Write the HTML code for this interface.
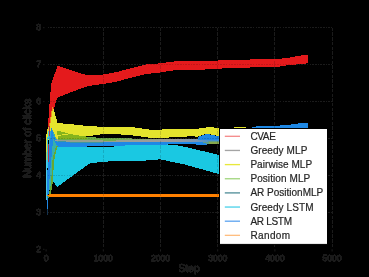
<!DOCTYPE html>
<html><head><meta charset="utf-8"><title>Number of clicks vs Step</title>
<style>
html,body{margin:0;padding:0;background:#000;}
body{width:369px;height:277px;overflow:hidden;}
svg{display:block;font-family:"Liberation Sans",sans-serif;}
</style></head><body>
<svg width="369" height="277" viewBox="0 0 369 277">
<defs><filter id="hard" x="-5%" y="-5%" width="110%" height="110%" color-interpolation-filters="sRGB"><feComponentTransfer><feFuncA type="linear" slope="12" intercept="-1.2"/></feComponentTransfer></filter>
<linearGradient id="gGrn" gradientUnits="userSpaceOnUse" x1="57.7" y1="0" x2="219.5" y2="0">
<stop offset="0" stop-color="#69af46"/><stop offset="0.36" stop-color="#70ad4e"/><stop offset="0.51" stop-color="#86a46c"/><stop offset="0.66" stop-color="#9a9a90"/><stop offset="1" stop-color="#9a9a90"/></linearGradient>
<linearGradient id="gGry" gradientUnits="userSpaceOnUse" x1="57.7" y1="0" x2="219.5" y2="0">
<stop offset="0" stop-color="#93a08c"/><stop offset="0.36" stop-color="#98a090"/><stop offset="0.51" stop-color="#9c9c98"/><stop offset="0.73" stop-color="#9a9a9a"/><stop offset="0.855" stop-color="#7a98b4"/><stop offset="0.94" stop-color="#4a90c8"/><stop offset="1" stop-color="#3c8cd4"/></linearGradient>
</defs>
<rect x="0" y="0" width="369" height="277" fill="#000"/>
<g stroke="#202020" stroke-width="1.1" stroke-dasharray="1.6 1.1" fill="none" shape-rendering="crispEdges">
<line x1="47.6" y1="212.4" x2="332.1" y2="212.4"/>
<line x1="47.6" y1="175.4" x2="332.1" y2="175.4"/>
<line x1="47.6" y1="138.5" x2="332.1" y2="138.5"/>
<line x1="47.6" y1="101.6" x2="332.1" y2="101.6"/>
<line x1="47.6" y1="64.6" x2="332.1" y2="64.6"/>
<line x1="47.6" y1="27.7" x2="332.1" y2="27.7"/>
</g>
<g stroke="#202020" stroke-width="1.1" stroke-dasharray="3.4 1.3" fill="none" shape-rendering="crispEdges">
<line x1="103.3" y1="27.7" x2="103.3" y2="249.3"/>
<line x1="160.5" y1="27.7" x2="160.5" y2="249.3"/>
<line x1="217.7" y1="27.7" x2="217.7" y2="249.3"/>
<line x1="274.9" y1="27.7" x2="274.9" y2="249.3"/>
<line x1="332.1" y1="27.7" x2="332.1" y2="249.3"/>
</g>
<g stroke="#202020" stroke-width="0.9" fill="none">
<line x1="46.1" y1="249.3" x2="46.1" y2="251.5"/>
<line x1="103.3" y1="249.3" x2="103.3" y2="251.5"/>
<line x1="160.5" y1="249.3" x2="160.5" y2="251.5"/>
<line x1="217.7" y1="249.3" x2="217.7" y2="251.5"/>
<line x1="274.9" y1="249.3" x2="274.9" y2="251.5"/>
<line x1="332.1" y1="249.3" x2="332.1" y2="251.5"/>
<line x1="43.1" y1="249.3" x2="44.5" y2="249.3"/>
<line x1="43.1" y1="212.4" x2="44.5" y2="212.4"/>
<line x1="43.1" y1="175.4" x2="44.5" y2="175.4"/>
<line x1="43.1" y1="138.5" x2="44.5" y2="138.5"/>
<line x1="43.1" y1="101.6" x2="44.5" y2="101.6"/>
<line x1="43.1" y1="64.6" x2="44.5" y2="64.6"/>
<line x1="43.1" y1="27.7" x2="44.5" y2="27.7"/>
</g>
<g shape-rendering="crispEdges">
<polygon points="57.7,146.3 86.0,146.6 113.0,146.9 116.0,145.7 160.0,143.8 176.0,145.2 185.0,146.9 219.5,155.0 219.5,174.2 185.0,164.6 160.0,159.3 140.0,161.0 127.0,161.1 103.0,161.6 91.0,163.3 88.0,164.5 76.0,173.3 57.3,186.9 52.9,181.0 52.5,172.0 53.5,162.0 55.0,155.0 57.7,146.3" fill="#1ac8e2" />
<polygon points="47.3,133.0 47.8,126.0 48.4,120.0 49.2,108.0 50.2,95.0 51.2,84.0 57.6,65.6 76.0,72.0 88.0,75.4 103.0,74.5 117.0,72.0 131.0,68.2 146.0,64.5 160.0,63.3 175.0,61.4 190.0,61.4 205.0,61.4 222.0,60.2 250.0,59.5 275.0,59.1 285.0,58.3 300.0,55.7 307.5,54.7 307.5,63.3 300.0,64.1 285.0,65.6 275.0,67.3 250.0,67.5 222.0,68.5 205.0,69.5 190.0,70.2 175.0,70.2 160.0,72.5 146.0,74.0 131.0,77.7 117.0,81.6 103.0,84.0 88.0,86.0 80.0,88.8 63.3,95.3 58.0,97.2 56.4,100.0 54.7,106.5 53.5,112.0 52.0,120.0 50.5,128.0 48.6,134.0" fill="#e41a1c" />
<polygon points="46.2,152.0 46.2,138.0 46.8,131.0 48.5,127.0 49.3,124.0 50.3,118.0 51.2,113.0 52.1,105.9 54.0,110.5 57.5,122.5 65.0,124.0 73.5,124.4 90.0,126.3 116.0,127.1 131.0,127.0 150.0,129.6 176.0,129.4 195.0,129.2 209.0,127.0 218.0,127.9 222.0,128.8 233.6,128.8 234.4,127.2 245.6,127.2 246.2,128.8 246.2,136.0 245.6,136.0 234.4,136.0 233.6,136.0 222.0,136.0 218.0,136.0 213.0,135.0 207.0,133.6 197.5,136.6 190.0,136.3 176.0,137.4 150.0,137.8 132.0,135.3 116.0,134.2 103.3,134.0 87.0,136.4 70.0,136.6 57.7,136.6 57.7,140.0 48.2,140.0 48.0,152.0" fill="#e4e42d" />
<polygon points="52.1,105.9 53.0,107.5 52.2,113.0 51.3,118.0 50.3,124.0 49.5,127.5 48.5,127.0 49.3,124.0 50.3,118.0 51.2,113.0" fill="#f0901e"/>
<polygon points="48.5,127.0 49.5,127.5 48.0,131.5 46.8,131.0" fill="#ecc028"/>
<polygon points="57.7,136.6 70.0,136.6 87.0,136.8 103.0,138.0 116.0,138.3 140.0,138.6 160.0,138.8 176.0,139.2 196.0,139.4 209.0,139.4 219.5,139.4 219.5,141.0 209.0,141.0 196.0,141.0 176.0,141.0 160.0,141.0 140.0,141.0 116.0,141.0 103.0,141.0 87.0,141.0 70.0,141.0 57.7,141.0" fill="url(#gGrn)" />
<polygon points="57.7,139.8 70.0,140.2 87.0,140.4 103.0,140.5 116.0,140.5 140.0,140.2 160.0,139.8 176.0,139.3 196.0,139.4 209.0,139.4 219.5,139.4 219.5,142.5 209.0,142.5 196.0,142.5 176.0,142.5 160.0,142.5 140.0,142.5 116.0,142.5 103.0,142.5 87.0,142.5 70.0,142.5 57.7,142.5" fill="url(#gGry)" />
<polygon points="57.7,141.3 70.0,141.6 87.0,141.7 103.0,141.7 116.0,141.7 140.0,141.8 160.0,141.8 176.0,141.8 176.0,143.0 160.0,143.0 140.0,143.0 116.0,143.0 103.0,143.0 87.0,143.0 70.0,143.0 57.7,143.0" fill="#3c96a0" />
<polygon points="57.7,142.0 70.0,142.5 87.0,142.5 88.5,142.5 103.0,142.5 116.0,142.3 140.0,142.2 160.0,142.0 176.0,142.0 196.0,141.6 206.9,141.6 207.0,141.6 219.5,141.6 219.5,143.6 207.0,143.6 206.9,144.5 196.0,144.5 176.0,144.4 160.0,144.6 140.0,145.2 116.0,145.7 103.0,145.9 88.5,145.9 87.0,146.6 70.0,146.6 57.7,146.6" fill="#1e88e5" />
<polygon points="201.0,141.9 219.5,140.9 219.5,143.6 206.0,143.6" fill="#5f9f86"/>
<polygon points="209.0,142.3 219.5,141.6 219.5,143.6 209.0,143.6" fill="#86a84c"/>
<polygon points="57.0,130.6 68.5,133.5 57.5,135.2" fill="#86b41c"/>
<polygon points="57.7,136.0 64.0,134.9 70.7,134.2 80.0,135.6 87.4,136.8 87.4,138.5 57.7,138.5" fill="#86b41c"/>
<polygon points="51.4,127.9 57.6,141.0 57.7,146.3 55.2,155.0 53.9,162.0 53.4,172.0 53.0,181.0 51.5,190.0 49.0,190.0 49.5,175.0 50.5,165.0 52.0,150.0 52.0,135.0" fill="#38b0aa"/>
<polygon points="51.4,127.9 53.6,135.0 53.0,140.0 52.2,150.0 50.8,165.0 49.8,175.0 48.8,190.0 48.0,200.0 47.9,209.0 47.2,209.0 46.9,190.0 47.2,175.0 47.8,165.0 48.8,150.0 49.4,135.0" fill="#1e88e5"/>
<polygon points="53.0,137.0 54.5,137.0 57.7,142.3 57.7,146.0 56.8,146.0" fill="#1e88e5"/>
<polygon points="51.4,127.9 50.8,135.0 49.4,135.0" fill="#2aa8d8"/>
<polygon points="49.4,135.0 50.8,135.0 50.0,145.0 49.0,145.0" fill="#2aa8d8"/>
<polygon points="57.7,139.4 57.7,141.0 54.5,141.3 54.5,140.3" fill="#9aa09a"/>
<polygon points="57.7,146.3 55.2,155.0 53.9,162.0 53.4,172.0 53.0,181.0 51.5,190.0 49.5,197.5 47.8,197.5 49.8,190.0 51.3,181.0 51.7,172.0 52.2,162.0 53.5,155.0 56.0,146.3" fill="#68a832"/>
<polygon points="46.0,135.0 47.4,135.0 47.3,152.0 46.0,152.0" fill="#e4e42d"/>
<polygon points="46.0,152.0 47.3,152.0 47.2,160.0 46.0,160.0" fill="#a8d860"/>
<polygon points="46.0,160.0 47.2,160.0 46.9,185.0 47.2,200.0 46.4,200.0 46.0,185.0" fill="#48cde6"/>
<polygon points="47.6,131.0 48.6,131.0 48.4,150.0 47.6,168.0 47.2,168.0 47.3,150.0" fill="#38c6e0"/>
<polygon points="49.2,126.0 49.9,126.0 49.0,150.0 48.1,172.0 47.5,172.0 48.3,150.0" fill="#b0384e"/>
<polygon points="197.5,137.0 207.0,133.8 213.0,135.2 218.0,136.1 234.0,129.5 251.6,129.0 252.4,126.7 265.0,126.1 285.0,125.3 300.0,123.2 307.8,123.2 307.8,134.0 300.0,135.0 285.0,136.0 265.0,137.0 252.4,138.0 251.6,138.0 234.0,139.0 218.0,139.5 213.0,139.5 207.0,139.5 197.5,139.5" fill="#1e88e5" />
<polygon points="47.0,195.6 50.5,193.8 219.5,193.8 219.5,197.2 50.5,197.2" fill="#ff8000"/>
<polygon points="47.2,209.0 47.9,209.0 47.8,215.0 47.3,215.0" fill="#14324e"/>
</g>
<g stroke="#000" stroke-opacity="0.14" stroke-width="1.1" stroke-dasharray="1.6 1.1" fill="none" shape-rendering="crispEdges">
<line x1="47.6" y1="212.4" x2="332.1" y2="212.4"/>
<line x1="47.6" y1="175.4" x2="332.1" y2="175.4"/>
<line x1="47.6" y1="138.5" x2="332.1" y2="138.5"/>
<line x1="47.6" y1="101.6" x2="332.1" y2="101.6"/>
<line x1="47.6" y1="64.6" x2="332.1" y2="64.6"/>
<line x1="47.6" y1="27.7" x2="332.1" y2="27.7"/>
</g>
<g stroke="#000" stroke-opacity="0.14" stroke-width="1.1" stroke-dasharray="3.4 1.3" fill="none" shape-rendering="crispEdges">
<line x1="103.3" y1="27.7" x2="103.3" y2="249.3"/>
<line x1="160.5" y1="27.7" x2="160.5" y2="249.3"/>
<line x1="217.7" y1="27.7" x2="217.7" y2="249.3"/>
<line x1="274.9" y1="27.7" x2="274.9" y2="249.3"/>
<line x1="332.1" y1="27.7" x2="332.1" y2="249.3"/>
</g>
<g filter="url(#hard)" stroke="#1c1c1c" stroke-width="0.55" stroke-linejoin="round"><g font-size="8.6px" fill="#1c1c1c">
<text x="46.1" y="260.8" text-anchor="middle">0</text>
<text x="103.3" y="260.8" text-anchor="middle">1000</text>
<text x="160.5" y="260.8" text-anchor="middle">2000</text>
<text x="217.7" y="260.8" text-anchor="middle">3000</text>
<text x="274.9" y="260.8" text-anchor="middle">4000</text>
<text x="332.1" y="260.8" text-anchor="middle">5000</text>
<text x="41" y="251.7" text-anchor="end">2</text>
<text x="41" y="214.8" text-anchor="end">3</text>
<text x="41" y="177.8" text-anchor="end">4</text>
<text x="41" y="140.9" text-anchor="end">5</text>
<text x="41" y="104.0" text-anchor="end">6</text>
<text x="41" y="67.0" text-anchor="end">7</text>
<text x="41" y="30.1" text-anchor="end">8</text>
</g>
<g font-size="10.3px" fill="#1c1c1c">
<text x="189.1" y="272.2" text-anchor="middle">Step</text>
<text transform="translate(30.6,138.2) rotate(-90)" text-anchor="middle" textLength="79" lengthAdjust="spacingAndGlyphs">Number of clicks</text>
</g></g>
<rect x="219.5" y="128.5" width="108" height="115.9" fill="#fff" stroke="#000" stroke-width="1"/>
<g font-size="10px" fill="#262626" stroke="#262626" stroke-width="0.2" opacity="0.999" style="will-change:transform">
<line x1="224.8" y1="136.30" x2="240" y2="136.30" stroke="#f58e8e" stroke-width="1.35"/>
<text x="250.4" y="139.80" textLength="25.4" lengthAdjust="spacing">CVAE</text>
<line x1="224.8" y1="150.45" x2="240" y2="150.45" stroke="#a4a4a4" stroke-width="1.35"/>
<text x="250.4" y="153.95" textLength="56.9" lengthAdjust="spacing">Greedy MLP</text>
<line x1="224.8" y1="164.60" x2="240" y2="164.60" stroke="#e8e83c" stroke-width="1.35"/>
<text x="250.4" y="168.10" textLength="61.7" lengthAdjust="spacing">Pairwise MLP</text>
<line x1="224.8" y1="178.75" x2="240" y2="178.75" stroke="#a3d680" stroke-width="1.35"/>
<text x="250.4" y="182.25" textLength="59.8" lengthAdjust="spacing">Position MLP</text>
<line x1="224.8" y1="192.90" x2="240" y2="192.90" stroke="#54909a" stroke-width="1.35"/>
<text x="250.4" y="196.40" textLength="72.8" lengthAdjust="spacing">AR PositionMLP</text>
<line x1="224.8" y1="207.05" x2="240" y2="207.05" stroke="#4fd3ea" stroke-width="1.35"/>
<text x="250.4" y="210.55" textLength="63.1" lengthAdjust="spacing">Greedy LSTM</text>
<line x1="224.8" y1="221.20" x2="240" y2="221.20" stroke="#62a6f0" stroke-width="1.35"/>
<text x="250.4" y="224.70" textLength="41.6" lengthAdjust="spacing">AR LSTM</text>
<line x1="224.8" y1="235.35" x2="240" y2="235.35" stroke="#ffbe80" stroke-width="1.35"/>
<text x="250.4" y="238.85" textLength="39.7" lengthAdjust="spacing">Random</text>
</g>
</svg>
</body></html>
